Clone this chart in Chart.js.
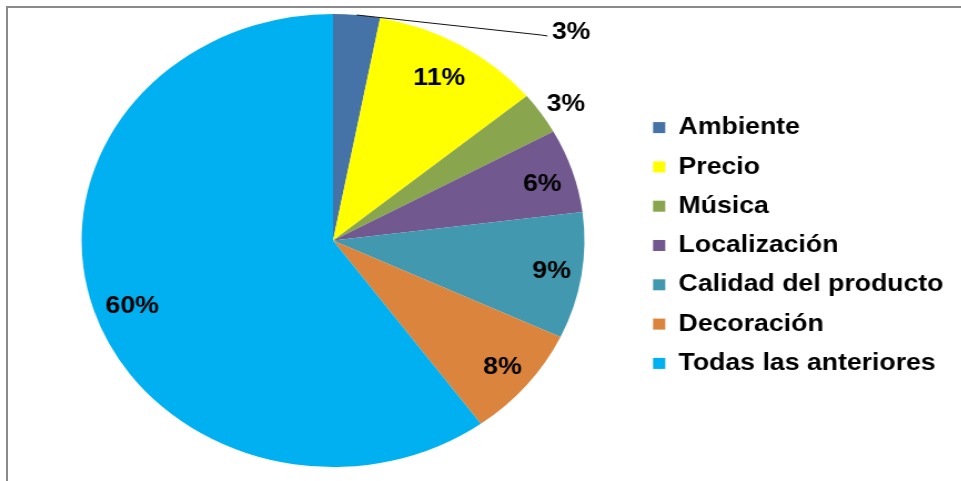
<!DOCTYPE html>
<html>
<head>
<meta charset="utf-8">
<script src="https://cdn.jsdelivr.net/npm/chart.js@4/dist/chart.umd.min.js"></script>
<style>
  html, body { margin: 0; padding: 0; background: #fff; }
  #wrap { position: relative; width: 961px; height: 481px; overflow: hidden; }
  #frame { position: absolute; left: 6px; top: 6px; width: 1000px; height: 500px;
           border-left: 2px solid #8a8a8a; border-top: 2px solid #8a8a8a; }
  #pie { position: absolute; left: 0; top: 0; transform: scaleX(1.11); transform-origin: 0 0; }
</style>
</head>
<body>
<div id="wrap">
  <div id="frame"></div>
  <canvas id="pie" width="866" height="481"></canvas>
</div>
<script>
const categories = ['Ambiente', 'Precio', 'Música', 'Localización', 'Calidad del producto', 'Decoración', 'Todas las anteriores'];
const shares = [3, 11, 3, 6, 9, 8, 60];
const sliceColors = ['#4572A7', '#FFFF00', '#89A54E', '#71588F', '#4198AF', '#DB843D', '#00B0F0'];

const labelFont = 'bold 24px "Liberation Sans", Arial, sans-serif';

// percentage labels; r is a fraction of the radius, dy nudges the text down
const sliceLabels = {
  id: 'sliceLabels',
  afterDatasetsDraw(chart, args, opts) {
    const { ctx } = chart;
    const meta = chart.getDatasetMeta(0);
    ctx.save();
    ctx.font = labelFont;
    ctx.fillStyle = '#000';
    ctx.textBaseline = 'middle';
    meta.data.forEach((arc, i) => {
      const { x, y, startAngle, endAngle, outerRadius } =
        arc.getProps(['x', 'y', 'startAngle', 'endAngle', 'outerRadius'], true);
      const place = opts.placement[i] || {};
      const mid = (startAngle + endAngle) / 2;
      const text = shares[i] + '%';
      if (place.leader) {
        const ax = x + Math.cos(mid) * outerRadius;
        const ay = y + Math.sin(mid) * outerRadius;
        const ex = x + place.leader[0] * outerRadius;
        const ey = y + place.leader[1] * outerRadius;
        ctx.strokeStyle = '#111';
        ctx.lineWidth = 1;
        ctx.beginPath();
        ctx.moveTo(ax, ay);
        ctx.lineTo(ex - 6, ey - 1);
        ctx.lineTo(ex, ey);
        ctx.stroke();
        ctx.textAlign = 'left';
        ctx.fillText(text, ex + 4, ey - 4);
      } else {
        const r = (place.r || 0.87) * outerRadius;
        ctx.textAlign = 'center';
        ctx.fillText(text, x + Math.cos(mid) * r, y + Math.sin(mid) * r + (place.dy || 0));
      }
    });
    ctx.restore();
  }
};

// nudge the legend block a little lower than centred
const legendNudge = {
  id: 'legendNudge',
  afterLayout(chart, args, opts) {
    chart.legend.top += opts.dy;
    chart.legend.bottom += opts.dy;
  }
};

new Chart(document.getElementById('pie'), {
  type: 'pie',
  data: {
    labels: categories,
    datasets: [{
      data: shares,
      backgroundColor: sliceColors,
      borderWidth: 0,
      hoverOffset: 0
    }]
  },
  options: {
    responsive: false,
    animation: false,
    radius: 226.5,
    layout: { padding: { top: 14, bottom: 14, left: 27, right: 6 } },
    plugins: {
      tooltip: { enabled: false },
      legend: {
        position: 'right',
        labels: {
          color: '#000',
          font: { family: '"Liberation Sans", Arial, sans-serif', size: 24, weight: 'bold' },
          boxWidth: 11,
          boxHeight: 11,
          padding: 15.3
        }
      },
      legendNudge: { dy: 5 },
      sliceLabels: {
        placement: [
          { leader: [0.853, -0.903] },
          { r: 0.83 },
          { r: 1.12, dy: 6 },
          { r: 0.875, dy: 5 },
          { r: 0.88 },
          { r: 0.875, dy: 1 },
          { r: 0.84, dy: 7 }
        ]
      }
    }
  },
  plugins: [sliceLabels, legendNudge]
});
</script>
</body>
</html>
